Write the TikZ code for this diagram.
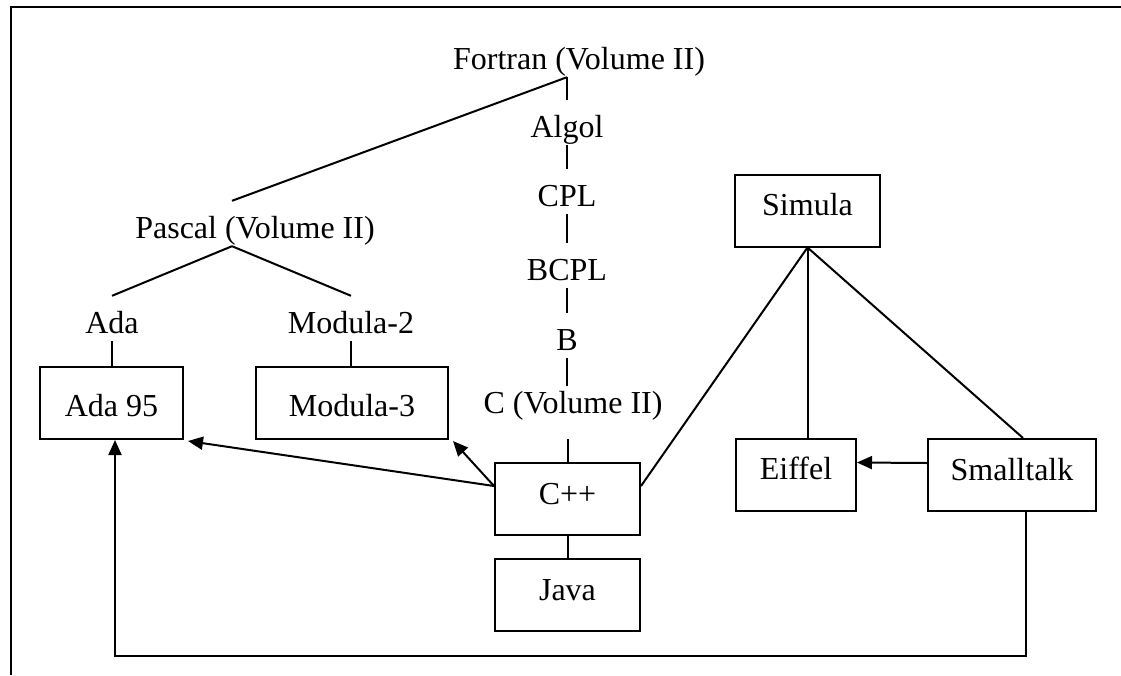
\documentclass[tikz,border=0pt]{standalone}
\usepackage{fontspec}
\setmainfont{Liberation Serif}
\usetikzlibrary{arrows.meta}

\begin{document}
\begin{tikzpicture}[x=1pt,y=-1pt,
  every node/.style={font=\fontsize{32pt}{38pt}\selectfont},
  lbl/.style={inner sep=0pt, anchor=base, text height=37pt, text depth=8pt},
  box/.style={draw, line width=2pt, inner sep=0pt, minimum height=72pt,
              text height=22pt, text depth=12pt},
  lowtext/.style={text height=30pt, text depth=4pt},
  link/.style={line width=2pt},
  arrowline/.style={link, -{Triangle[length=15pt,width=13pt]}}]

\useasboundingbox (0,0) rectangle (1121,675);

% frame
\draw[link] (1121,7) -- (11,7) -- (11,675);

% plain text labels
\node[lbl] (fortran) at (579,69) {Fortran (Volume II)};
\node[lbl] (algol) at (567,137) {Algol};
\node[lbl] (cpl) at (567,206) {CPL};
\node[lbl] (bcpl) at (567,280) {BCPL};
\node[lbl] (b) at (567,350) {B};
\node[lbl, text height=27pt, text depth=26pt] (cvol) at (573,413) {C (Volume II)};
\node[lbl] (pascal) at (255,238) {Pascal (Volume II)};
\node[lbl] (ada) at (112,333) {Ada};
\node[lbl] (modula2) at (351,333) {Modula-2};

% boxed languages
\node[box, lowtext, minimum width=143pt] (ada95) at (111.5,403) {Ada 95};
\node[box, lowtext, minimum width=192pt] (modula3) at (352,403) {Modula-3};
\node[box, minimum width=145pt] (cpp) at (567.5,499) {C++};
\node[box, minimum width=145pt] (java) at (567.5,595) {Java};
\node[box, minimum width=145pt] (simula) at (807.5,210.5) {Simula};
\node[box, minimum width=120pt] (eiffel) at (796,474.5) {Eiffel};
\node[box, minimum width=168pt] (smalltalk) at (1012,475) {Smalltalk};

% Algol family
\draw[link] (algol.north |- fortran.south) -- (algol.north);
\draw[link] (algol.north |- fortran.south) -- ([xshift=-23pt]pascal.north);
\draw[link] (algol.south) -- (cpl.north);
\draw[link] (cpl.south) -- (bcpl.north);
\draw[link] (bcpl.south) -- (b.north);
\draw[link] (b.south) -- (b.south |- cvol.north);
\draw[link] (cvol.south -| cpp.north) -- (cpp.north);
\draw[link] (cpp.south) -- (java.north);

% Pascal family
\draw[link] ([xshift=-23pt]pascal.south) -- (ada.north);
\draw[link] ([xshift=-23pt]pascal.south) -- (modula2.north);
\draw[link] (ada.south) -- (ada.south |- ada95.north);
\draw[link] (modula2.south) -- (modula2.south |- modula3.north);

% influences of C++
\draw[arrowline] ([yshift=13pt]cpp.west) -- ([xshift=4pt,yshift=-1pt]ada95.south east);
\draw[arrowline] ([yshift=13pt]cpp.west) -- ([xshift=4pt,yshift=-1pt]modula3.south east);

% Simula family
\draw[link] (simula.south) -- ([yshift=13pt]cpp.east);
\draw[link] (simula.south) -- (simula.south |- eiffel.north);
\draw[link] (simula.south) -- ([xshift=11pt]smalltalk.north);
\draw[arrowline] ([yshift=12pt]smalltalk.west) -- ([yshift=12pt]eiffel.east);
\draw[arrowline] ([xshift=14pt]smalltalk.south) -- ++(0,144) -| ([xshift=3.5pt]ada95.south);

\end{tikzpicture}
\end{document}
